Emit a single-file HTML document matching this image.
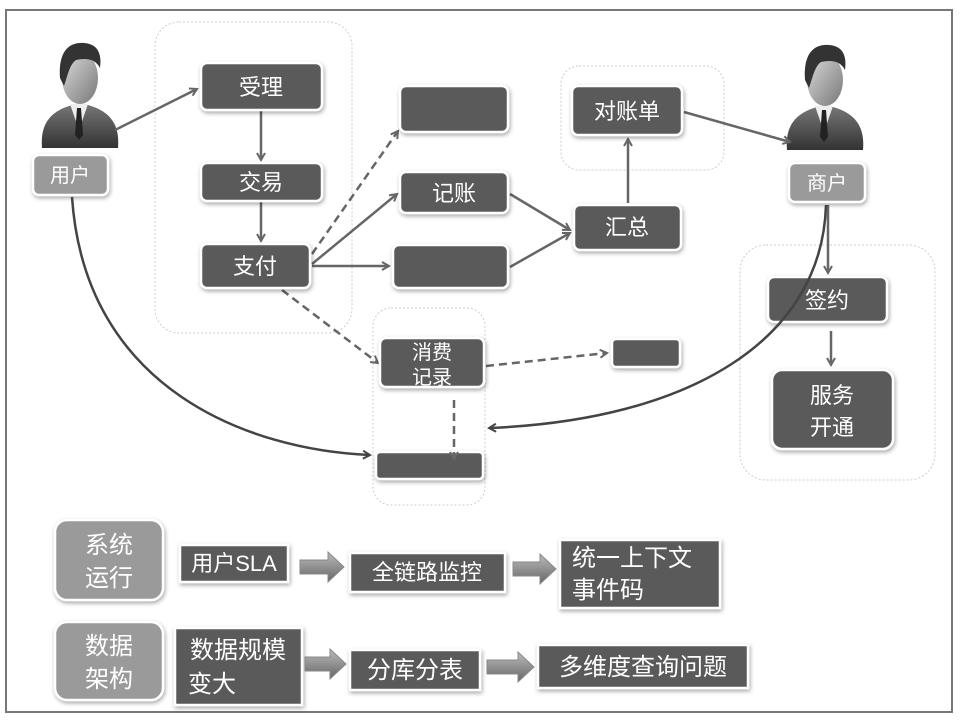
<!DOCTYPE html>
<html><head><meta charset="utf-8"><style>
body{margin:0;background:#fff;}
svg text{font-family:"Liberation Sans","Noto Sans CJK SC",sans-serif;fill:#fff;}
</style></head><body>
<svg width="968" height="720" viewBox="0 0 968 720" xmlns="http://www.w3.org/2000/svg">
<defs>
<filter id="sh" x="-20%" y="-20%" width="140%" height="150%"><feDropShadow dx="1" dy="2" stdDeviation="2" flood-color="#000" flood-opacity="0.35"/></filter>
<marker id="ar" markerWidth="10" markerHeight="10" refX="8" refY="5" orient="auto" markerUnits="userSpaceOnUse"><path d="M1,1 L8,5 L1,9" fill="none" stroke="#666" stroke-width="2"/></marker>
<marker id="ar2" markerWidth="10" markerHeight="10" refX="8" refY="5" orient="auto" markerUnits="userSpaceOnUse"><path d="M1,1 L8,5 L1,9" fill="none" stroke="#444" stroke-width="2"/></marker>
<linearGradient id="face" x1="0" y1="0" x2="1" y2="1"><stop offset="0" stop-color="#ddd"/><stop offset="1" stop-color="#777"/></linearGradient>
<linearGradient id="body" x1="0" y1="0" x2="0" y2="1"><stop offset="0" stop-color="#777"/><stop offset="1" stop-color="#333"/></linearGradient>
<linearGradient id="arw" x1="0" y1="0" x2="0" y2="1"><stop offset="0" stop-color="#bbb"/><stop offset="1" stop-color="#666"/></linearGradient>
<g id="person">
<path d="M2,108 C0,84 10,70 36,64 L44,64 C70,70 80,84 78,108 Z" fill="url(#body)"/>
<path d="M30,64 L39,90 L48,64 Z" fill="#eee"/>
<path d="M37,68 L41,68 L43,95 L39,100 L35,95 Z" fill="#222"/>
<ellipse cx="40" cy="38" rx="18" ry="26" fill="url(#face)"/>
<path d="M20,38 C18,10 30,2 44,3 C58,4 62,14 60,28 C55,18 45,18 36,20 C30,24 28,34 24,46 Z" fill="#333"/>
</g>
</defs>
<rect x="6" y="10" width="946" height="702" fill="none" stroke="#777" stroke-width="2"/>
<g fill="none" stroke="#ccc" stroke-dasharray="2,2" stroke-width="1">
<rect x="155" y="22" width="197" height="311" rx="24"/>
<rect x="373" y="308" width="112" height="197" rx="18"/>
<rect x="561" y="66" width="163" height="104" rx="18"/>
<rect x="740" y="245" width="195" height="235" rx="26"/>
</g>
<use href="#person" x="40" y="40"/>
<use href="#person" x="785" y="42"/>
<g stroke="#666" stroke-width="2.5" fill="none" marker-end="url(#ar)">
<line x1="115" y1="130" x2="197" y2="89"/>
<line x1="261" y1="111" x2="261" y2="160"/>
<line x1="261" y1="202" x2="261" y2="241"/>
<line x1="312" y1="264" x2="397" y2="194"/>
<line x1="312" y1="266" x2="389" y2="266"/>
<line x1="510" y1="194" x2="570" y2="230"/>
<line x1="510" y1="267" x2="570" y2="233"/>
<line x1="628" y1="203" x2="628" y2="139"/>
<line x1="684" y1="112" x2="790" y2="142"/>
<line x1="828" y1="205" x2="828" y2="273"/>
<line x1="831" y1="331" x2="831" y2="365"/>
</g>
<g stroke="#666" stroke-width="2.5" fill="none" stroke-dasharray="8,5" marker-end="url(#ar)">
<line x1="312" y1="254" x2="398" y2="131"/>
<line x1="282" y1="290" x2="378" y2="363"/>
<line x1="486" y1="366" x2="607" y2="353"/>
</g>
<g filter="url(#sh)" stroke="#fff" stroke-width="2.5">
<rect x="33" y="155" width="75" height="40" rx="6" fill="#9a9a9a"/>
<rect x="789" y="163" width="76" height="39" rx="6" fill="#9a9a9a"/>
<rect x="201" y="63" width="121" height="47" rx="6" fill="#5a5a5a"/>
<rect x="201" y="163" width="121" height="38" rx="6" fill="#5a5a5a"/>
<rect x="201" y="244" width="109" height="44" rx="6" fill="#5a5a5a"/>
<rect x="400" y="86" width="108" height="46" rx="6" fill="#5a5a5a"/>
<rect x="400" y="172" width="108" height="41" rx="6" fill="#5a5a5a"/>
<rect x="393" y="245" width="115" height="43" rx="6" fill="#5a5a5a"/>
<rect x="380" y="338" width="104" height="49" rx="6" fill="#5a5a5a"/>
<rect x="376" y="452" width="107" height="27" rx="4" fill="#5a5a5a"/>
<rect x="572" y="86" width="110" height="49" rx="6" fill="#5a5a5a"/>
<rect x="574" y="205" width="107" height="45" rx="6" fill="#5a5a5a"/>
<rect x="612" y="339" width="68" height="28" rx="4" fill="#5a5a5a"/>
<rect x="768" y="277" width="119" height="45" rx="6" fill="#5a5a5a"/>
<rect x="772" y="370" width="121" height="79" rx="10" fill="#5a5a5a"/>
<rect x="55" y="520" width="108" height="80" rx="12" fill="#9a9a9a"/>
<rect x="55" y="622" width="108" height="78" rx="12" fill="#9a9a9a"/>
<rect x="180" y="545" width="108" height="37" fill="#5a5a5a"/>
<rect x="350" y="553" width="155" height="39" fill="#5a5a5a"/>
<rect x="560" y="540" width="160" height="68" fill="#5a5a5a"/>
<rect x="175" y="628" width="127" height="77" fill="#5a5a5a"/>
<rect x="350" y="650" width="130" height="40" fill="#5a5a5a"/>
<rect x="538" y="645" width="210" height="43" fill="#5a5a5a"/>
</g>
<g stroke="#666" stroke-width="2.5" fill="none" stroke-dasharray="8,5" marker-end="url(#ar)">
<line x1="454" y1="400" x2="454" y2="459"/>
</g>
<g stroke="#444" stroke-width="2.5" fill="none" marker-end="url(#ar2)">
<path d="M72,197 C85,390 250,450 370,455"/>
<path d="M826,205 C822,340 690,420 489,428"/>
</g>
<g fill="url(#arw)" stroke="#888" stroke-width="1">
<path d="M300,560 L328,560 L328,552 L344,567 L328,582 L328,574 L300,574 Z"/>
<path d="M513,562 L540,562 L540,554 L556,569 L540,584 L540,576 L513,576 Z"/>
<path d="M305,657 L330,657 L330,649 L346,664 L330,679 L330,671 L305,671 Z"/>
<path d="M487,660 L518,660 L518,652 L534,667 L518,682 L518,674 L487,674 Z"/>
</g>
<g font-size="22" text-anchor="middle">
<text x="70" y="182" font-size="20">用户</text>
<text x="827" y="190" font-size="20">商户</text>
<text x="261" y="95">受理</text>
<text x="261" y="190">交易</text>
<text x="255" y="274">支付</text>
<text x="454" y="201">记账</text>
<text x="432" y="359" font-size="20">消费</text>
<text x="432" y="384" font-size="20">记录</text>
<text x="627" y="119">对账单</text>
<text x="627" y="235">汇总</text>
<text x="827" y="308">签约</text>
<text x="832" y="403">服务</text>
<text x="832" y="435">开通</text>
<text x="109" y="553" font-size="24">系统</text>
<text x="109" y="586" font-size="24">运行</text>
<text x="109" y="654" font-size="24">数据</text>
<text x="109" y="687" font-size="24">架构</text>
<text x="234" y="571">用户SLA</text>
<text x="427" y="580">全链路监控</text>
<text x="238" y="658" font-size="24">数据规模</text>
<text x="212" y="692" font-size="24">变大</text>
<text x="415" y="678" font-size="24">分库分表</text>
<text x="643" y="675" font-size="24">多维度查询问题</text>
</g>
<g font-size="24" text-anchor="start">
<text x="572" y="566">统一上下文</text>
<text x="572" y="598">事件码</text>
</g>
</svg>
</body></html>
